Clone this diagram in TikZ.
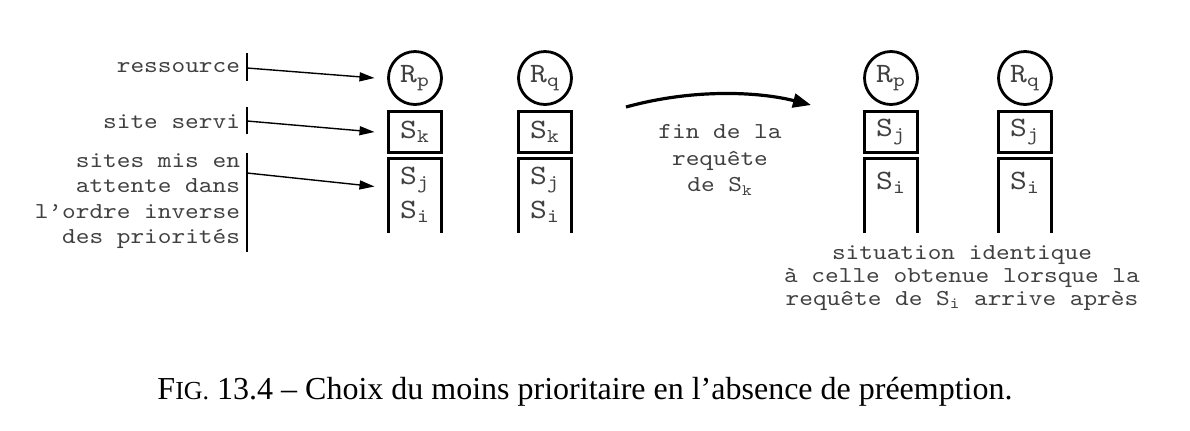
\documentclass[tikz,border=0pt]{standalone}
\usepackage{fontspec}
\setmainfont{Liberation Serif}
\setmonofont[Extension=.otf, FakeStretch=1.143]{lmmono10-regular}
\usetikzlibrary{arrows.meta}

\definecolor{ink}{gray}{0.25}

\def \globalscale {1.000000}

\newcommand{\site}[1]{S\textsubscript{#1}}
\newcommand{\ress}[1]{R\textsubscript{#1}}

\begin{document}
\begin{tikzpicture}[y=0.50pt, x=0.50pt, yscale=-\globalscale, xscale=\globalscale, inner sep=0pt, outer sep=0pt,
  lbl/.style={font=\ttfamily\fontsize{11.4}{12.75}\selectfont, text=ink, align=right, anchor=east},
  note/.style={font=\ttfamily\fontsize{11.4}{11.6}\selectfont, text=ink, align=center},
  ressource/.style={draw=black, circle, line width=1.4pt, minimum size=26.5pt, font=\ttfamily\fontsize{14}{15}\selectfont, text=ink},
  servi/.style={draw=black, rectangle, line width=1.5pt, minimum width=26.5pt, minimum height=20.5pt, font=\ttfamily\fontsize{14}{15}\selectfont, text=ink},
  attente/.style={rectangle, minimum width=26.5pt, minimum height=37.5pt},
  entree/.style={font=\ttfamily\fontsize{14}{15}\selectfont, text=ink},
  bord/.style={draw=black, line width=1.5pt, line join=miter},
  barre/.style={draw=black, line width=1pt},
  pointe/.style={draw=black, line width=0.7pt, -{Triangle[length=7.5pt,width=4.5pt]}},
  transition/.style={draw=black, line width=1.6pt, -{Triangle[length=9pt,width=7pt]}}]
\useasboundingbox (0,0) rectangle (1190,430);

\node[lbl] (tres) at (240,68) {ressource};

\node[lbl] (tservi) at (240,122) {site servi};

\node[lbl] (tattente) at (240,201) {sites mis en\\attente dans\\l’ordre inverse\\des priorités};

\path[barre] (247,53) -- (247,81);

\path[barre] (247,107) -- (247,134);

\path[barre] (247,153) -- (247,252);

\coordinate (bres) at (247,68);

\coordinate (bservi) at (247,121);

\coordinate (battente) at (247,173);

\node[ressource] (r1) at (415,78) {\ress{p}};

\node[servi] (s1) at (415,132) {\site{k}};

\node[attente] (f1) at (415,195.5) {};

\path[bord] (f1.south west) -- (f1.north west) -- (f1.north east) -- (f1.south east);

\node[entree] (j1) at (415,180) {\site{j}};

\node[entree] (i1) at (415,212) {\site{i}};

\node[ressource] (r2) at (545,78) {\ress{q}};

\node[servi] (s2) at (545,132) {\site{k}};

\node[attente] (f2) at (545,195.5) {};

\path[bord] (f2.south west) -- (f2.north west) -- (f2.north east) -- (f2.south east);

\node[entree] (j2) at (545,180) {\site{j}};

\node[entree] (i2) at (545,212) {\site{i}};

\path[pointe] (bres) -- ([xshift=-7pt]r1.west);

\path[pointe] (bservi) -- ([xshift=-7pt]s1.west);

\path[pointe] (battente) -- ([xshift=-7pt,yshift=-4.5pt]f1.west);

\coordinate (avant) at (626,107);

\coordinate (apres) at (811,105);

\path[transition] (avant) .. controls (695,88) and (760,92) .. (apres);

\node[note, font=\ttfamily\fontsize{11.4}{13.25}\selectfont] (tfin) at (720,160) {fin de la\\requête\\de S\textsubscript{k}};

\node[ressource] (r3) at (891,78) {\ress{p}};

\node[servi] (s3) at (891,132) {\site{j}};

\node[attente] (f3) at (891,195.5) {};

\path[bord] (f3.south west) -- (f3.north west) -- (f3.north east) -- (f3.south east);

\node[entree] (i3) at (891,183) {\site{i}};

\node[ressource] (r4) at (1025,78) {\ress{q}};

\node[servi] (s4) at (1025,132) {\site{j}};

\node[attente] (f4) at (1025,195.5) {};

\path[bord] (f4.south west) -- (f4.north west) -- (f4.north east) -- (f4.south east);

\node[entree] (i4) at (1025,183) {\site{i}};

\node[note] (tsituation) at (962,278) {situation identique\\à celle obtenue lorsque la\\requête de S\textsubscript{i} arrive après};

\node[font=\fontsize{16}{17}\selectfont, anchor=base] (legende) at (585,399) {F{\fontsize{13}{13}\selectfont IG.} 13.4 -- Choix du moins prioritaire en l’absence de préemption.};

\end{tikzpicture}
\end{document}
